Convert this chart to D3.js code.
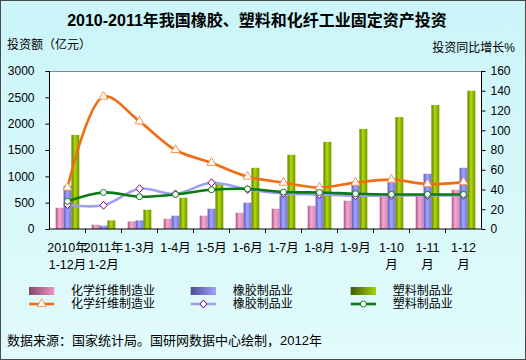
<!DOCTYPE html>
<html><head><meta charset="utf-8">
<script src="https://cdn.jsdelivr.net/npm/d3@7"></script>
<style>
html,body{margin:0;padding:0;background:#fff;}
svg{display:block;font-family:"Liberation Sans","Noto Sans CJK SC",sans-serif;}
</style></head><body>
<script>
const categories = ["2010年\n1-12月","2011年\n1-2月","1-3月","1-4月","1-5月","1-6月","1-7月","1-8月","1-9月","1-10\n月","1-11\n月","1-12\n月"];
const chemFiberInvest = [404, 82, 145, 196, 253, 310, 385, 442, 537, 640, 650, 745];
const rubberInvest    = [821, 63, 164, 253, 385, 499, 632, 733, 840, 905, 1049, 1162];
const plasticInvest   = [1788, 164, 366, 594, 853, 1162, 1409, 1655, 1901, 2125, 2356, 2625];
const chemFiberGrowth = [42, 134, 109, 80, 67, 53, 47, 42, 47, 50, 45.5, 47.5];
const rubberGrowth    = [24.6, 24, 40.8, 35.5, 46.8, 40, 36, 35, 33.7, 34, 34, 34];
const plasticGrowth   = [28, 37, 32.7, 35, 39.7, 40.6, 37.4, 37, 35.7, 35, 35, 35];
const leftTicks = [0, 500, 1000, 1500, 2000, 2500, 3000];
const rightTicks = [0, 20, 40, 60, 80, 100, 120, 140, 160];
const barNames = ["化学纤维制造业","橡胶制品业","塑料制品业"];

const W = 526, H = 360;
const m = {left: 49.5, right: 481.5, top: 71, bottom: 229};
const svg = d3.select("body").append("svg").attr("width", W).attr("height", H);
const defs = svg.append("defs");

const bg = defs.append("linearGradient").attr("id","bg").attr("x1",0).attr("y1",0).attr("x2",0).attr("y2",1);
bg.append("stop").attr("offset","0%").attr("stop-color","#cbf5f9");
bg.append("stop").attr("offset","100%").attr("stop-color","#e2fbfc");
svg.append("rect").attr("x",0.5).attr("y",0.5).attr("width",W-1).attr("height",H-1)
  .attr("fill","url(#bg)").attr("stroke","#4a4a4a");

function hgrad(id, stops){
  const g = defs.append("linearGradient").attr("id",id).attr("x1",0).attr("y1",0).attr("x2",1).attr("y2",0);
  stops.forEach(s=>g.append("stop").attr("offset",s[0]).attr("stop-color",s[1]));
}
hgrad("gPink",[["0%","#a8587f"],["45%","#f6a6d0"],["100%","#d586b2"]]);
hgrad("gBlue",[["0%","#5a5ab8"],["45%","#a4a4ff"],["100%","#7676dc"]]);
hgrad("gGreen",[["0%","#5c7a00"],["45%","#b2dc08"],["100%","#6e9200"]]);
hgrad("lPink",[["0%","#7e4a64"],["100%","#f294c6"]]);
hgrad("lBlue",[["0%","#4c4c94"],["100%","#a2a2ff"]]);
hgrad("lGreen",[["0%","#3e5a00"],["100%","#a6d400"]]);
const fills = ["url(#gPink)","url(#gBlue)","url(#gGreen)"];
const lfills = ["url(#lPink)","url(#lBlue)","url(#lGreen)"];

// plot area
svg.append("rect").attr("x",m.left).attr("y",m.top).attr("width",m.right-m.left).attr("height",m.bottom-m.top).attr("fill","#ffffff");
svg.append("line").attr("x1",m.left).attr("x2",m.right).attr("y1",m.top+0.5).attr("y2",m.top+0.5).attr("stroke","#7a8c96");

const x = d3.scaleBand().domain(d3.range(categories.length)).range([m.left, m.right]).paddingInner(0.345).paddingOuter(0.1725);
const xc = d3.scaleBand().domain(d3.range(categories.length)).range([m.left, m.right]);
const xs = d3.scaleBand().domain([0,1,2]).range([0, x.bandwidth()]);
const yL = d3.scaleLinear().domain([0,3000]).range([m.bottom, m.top]);
const yR = d3.scaleLinear().domain([0,160]).range([m.bottom, m.top]);

// bars
const series = [chemFiberInvest, rubberInvest, plasticInvest];
series.forEach((s, si)=>{
  svg.append("g").selectAll("rect").data(s).join("rect")
    .attr("x",(d,i)=>x(i)+xs(si)).attr("width",xs.bandwidth())
    .attr("y",d=>yL(d)).attr("height",d=>yL(0)-yL(d)).attr("fill",fills[si]);
});

// axes
const fontNum = "12px";
const axL = svg.append("g").attr("transform",`translate(${m.left},0)`)
  .call(d3.axisLeft(yL).tickValues(leftTicks).tickFormat(d3.format("d")).tickSize(4).tickPadding(11));
const axR = svg.append("g").attr("transform",`translate(${m.right},0)`)
  .call(d3.axisRight(yR).tickValues(rightTicks).tickFormat(d3.format("d")).tickSize(4).tickPadding(5));
const axB = svg.append("g").attr("transform",`translate(0,${m.bottom})`)
  .call(d3.axisBottom(xc).tickValues(d3.range(1, categories.length)).tickSize(4).tickFormat(""));
axB.selectAll(".tick line").attr("transform",`translate(${-xc.bandwidth()/2},0)`);
[axL, axR, axB].forEach(a=>{
  a.select(".domain").attr("stroke","#000");
  a.selectAll(".tick line").attr("stroke","#000");
  a.selectAll("text").attr("font-size",fontNum).attr("fill","#000")
    .attr("font-family","Liberation Sans, Noto Sans CJK SC");
});
axB.select(".domain").attr("d",`M${m.left},0H${m.right}`);
axL.select(".domain").attr("d",`M0,${m.top}V${m.bottom}`);
axR.select(".domain").attr("d",`M0,${m.top}V${m.bottom}`);

// x labels
const xl = svg.append("g");
categories.forEach((c,i)=>{
  const lines = c.split("\n");
  const t = xl.append("text").attr("text-anchor","middle").attr("font-size","12.5px").attr("fill","#000");
  lines.forEach((ln,k)=>{
    t.append("tspan").attr("x", xc(i)+xc.bandwidth()/2).attr("y", 252 + k*17).text(ln);
  });
});

// lines
const lineGen = ys => d3.line().x((d,i)=>xc(i)+xc.bandwidth()/2).y(d=>ys(d)).curve(d3.curveCatmullRom.alpha(0.5));
const lineSeries = [
  {data: chemFiberGrowth, color:"#f26c14", mk:"tri", mstroke:"#f5934f"},
  {data: rubberGrowth, color:"#a0a0f2", mk:"dia", mstroke:"#800080"},
  {data: plasticGrowth, color:"#0b7a12", mk:"cir", mstroke:"#0b7a12"}
];
function marker(g, type, cx, cy, stroke){
  if(type==="tri"){
    g.append("path").attr("d",d3.symbol(d3.symbolTriangle, 34)()).attr("transform",`translate(${cx},${cy})`)
      .attr("fill","#fff").attr("stroke",stroke).attr("stroke-width",1);
  } else if(type==="dia"){
    g.append("path").attr("d",`M0,-4L3.6,0L0,4L-3.6,0Z`).attr("transform",`translate(${cx},${cy})`)
      .attr("fill","#fff").attr("stroke",stroke).attr("stroke-width",1);
  } else {
    g.append("circle").attr("cx",cx).attr("cy",cy).attr("r",3)
      .attr("fill","#fff").attr("stroke",stroke).attr("stroke-width",1);
  }
}
lineSeries.forEach(ls=>{
  svg.append("path").datum(ls.data).attr("d",lineGen(yR)).attr("fill","none")
    .attr("stroke",ls.color).attr("stroke-width",2.6);
  const g = svg.append("g");
  ls.data.forEach((d,i)=>marker(g, ls.mk, xc(i)+xc.bandwidth()/2, yR(d), ls.mstroke));
});

// titles
svg.append("text").attr("x",257).attr("y",20).attr("text-anchor","middle").attr("dominant-baseline","central")
  .attr("font-size","16px").attr("font-weight","bold").attr("fill","#000").text("2010-2011年我国橡胶、塑料和化纤工业固定资产投资");
svg.append("text").attr("x",7).attr("y",45).attr("dominant-baseline","central").attr("font-size","12px").attr("fill","#000").text("投资额（亿元）");
svg.append("text").attr("x",515).attr("y",48).attr("text-anchor","end").attr("dominant-baseline","central").attr("font-size","12px").attr("fill","#000").text("投资同比增长%");

// legend
const legX = [29, 190.7, 350.7];
const leg = svg.append("g");
barNames.forEach((n,i)=>{
  leg.append("rect").attr("x",legX[i]).attr("y",287).attr("width",25.3).attr("height",8).attr("fill",lfills[i]);
  leg.append("text").attr("x",legX[i]+42).attr("y",291).attr("dominant-baseline","central").attr("font-size","12px").attr("fill","#000").text(n);
  const ls = lineSeries[i];
  leg.append("line").attr("x1",legX[i]).attr("x2",legX[i]+25.3).attr("y1",304).attr("y2",304).attr("stroke",ls.color).attr("stroke-width",2.6);
  marker(leg, ls.mk, legX[i]+12.7, 304, ls.mstroke);
  leg.append("text").attr("x",legX[i]+42).attr("y",304).attr("dominant-baseline","central").attr("font-size","12px").attr("fill","#000").text(n);
});

svg.append("text").attr("x",7).attr("y",340).attr("dominant-baseline","central").attr("font-size","13px").attr("fill","#000").text("数据来源：国家统计局。国研网数据中心绘制，2012年");
</script>
</body></html>
